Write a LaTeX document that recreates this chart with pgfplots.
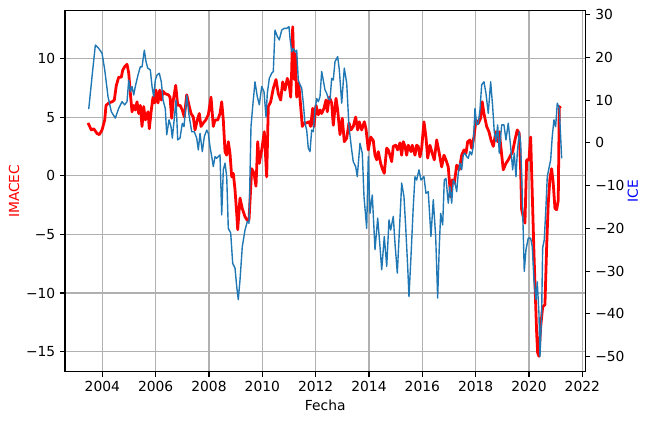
\documentclass[border=0pt]{standalone}
\usepackage{fontspec}
\setmainfont{DejaVu Sans}
\usepackage{pgfplots}
\pgfplotsset{compat=1.18}
\definecolor{mplblue}{HTML}{1F77B4}
\definecolor{gridgray}{HTML}{B0B0B0}
\definecolor{labelblue}{HTML}{0000FF}
\definecolor{labelred}{HTML}{FF0000}

\pgfplotstableread{
x y
2003.464 4.5
2003.588 3.9
2003.678 4.0
2003.801 3.6
2003.888 3.5
2003.989 3.9
2004.090 4.75
2004.139 6.0
2004.240 6.2
2004.364 6.3
2004.450 6.45
2004.525 7.7
2004.615 8.4
2004.712 8.4
2004.765 9.0
2004.840 9.3
2004.926 9.5
2004.990 8.75
2005.050 7.05
2005.114 5.45
2005.177 6.0
2005.237 5.6
2005.301 6.3
2005.365 5.3
2005.425 6.0
2005.489 4.2
2005.552 5.9
2005.612 4.75
2005.714 5.45
2005.762 4.0
2005.837 5.6
2005.901 6.7
2005.965 6.2
2006.013 7.3
2006.088 6.2
2006.152 7.3
2006.212 6.45
2006.276 7.2
2006.351 7.0
2006.475 6.9
2006.538 6.7
2006.602 4.9
2006.662 6.45
2006.752 7.7
2006.827 6.0
2006.913 6.0
2007.000 5.6
2007.075 5.0
2007.165 6.9
2007.251 6.0
2007.326 5.3
2007.412 5.0
2007.476 3.9
2007.562 4.75
2007.637 5.3
2007.701 4.2
2007.787 4.5
2007.877 4.75
2007.975 5.2
2008.076 6.7
2008.162 4.2
2008.226 4.75
2008.327 4.75
2008.413 5.3
2008.477 6.3
2008.537 4.75
2008.601 2.05
2008.665 1.75
2008.724 2.9
2008.788 1.9
2008.852 -0.1
2008.912 0.2
2008.976 -1.2
2009.039 -3.2
2009.077 -4.6
2009.163 -1.9
2009.249 -2.8
2009.351 -3.5
2009.437 -3.8
2009.501 -3.8
2009.602 0.6
2009.688 0.2
2009.763 -0.9
2009.827 2.9
2009.887 1.05
2009.977 2.2
2010.074 3.75
2010.164 -0.1
2010.224 5.9
2010.314 6.3
2010.412 7.45
2010.513 8.2
2010.599 7.0
2010.689 6.45
2010.764 8.0
2010.850 7.3
2010.937 8.3
2011.012 7.7
2011.064 6.7
2011.102 9.0
2011.139 12.7
2011.199 8.2
2011.237 10.4
2011.289 6.7
2011.364 7.9
2011.439 5.9
2011.499 4.2
2011.574 4.5
2011.664 4.5
2011.750 4.6
2011.814 4.2
2011.889 5.75
2011.938 4.2
2012.013 6.0
2012.099 5.2
2012.163 5.6
2012.226 5.3
2012.313 5.75
2012.388 6.45
2012.437 5.45
2012.512 6.7
2012.601 6.2
2012.661 4.3
2012.763 6.6
2012.826 5.6
2012.913 3.5
2012.999 4.9
2013.074 2.9
2013.164 3.2
2013.250 4.5
2013.325 3.9
2013.411 4.2
2013.501 5.0
2013.576 3.9
2013.636 4.6
2013.726 3.9
2013.824 4.6
2013.888 4.0
2013.974 2.2
2014.064 3.3
2014.161 3.0
2014.225 1.75
2014.289 1.35
2014.349 2.05
2014.439 1.05
2014.499 0.6
2014.574 0.2
2014.664 2.35
2014.724 2.2
2014.787 1.75
2014.851 1.2
2014.911 2.5
2015.001 2.6
2015.076 2.2
2015.162 2.8
2015.226 1.75
2015.286 2.9
2015.350 2.5
2015.414 1.75
2015.474 2.6
2015.575 2.05
2015.624 2.6
2015.725 1.75
2015.788 2.6
2015.848 2.5
2015.912 1.6
2015.976 2.35
2016.062 4.6
2016.137 3.3
2016.201 1.5
2016.287 2.6
2016.374 1.9
2016.449 1.35
2016.539 3.05
2016.636 1.9
2016.726 0.75
2016.812 1.75
2016.887 1.35
2016.973 0.75
2017.063 -1.8
2017.124 -0.35
2017.199 -0.65
2017.289 0.9
2017.386 0.5
2017.476 1.75
2017.562 2.2
2017.637 1.9
2017.701 2.9
2017.787 3.05
2017.851 2.35
2017.937 3.3
2018.012 4.75
2018.098 4.45
2018.188 4.9
2018.248 6.3
2018.312 5.3
2018.413 4.2
2018.500 3.75
2018.575 3.05
2018.661 2.5
2018.762 3.75
2018.826 2.9
2018.886 3.75
2019.036 0.5
2019.137 1.05
2019.223 1.35
2019.313 1.75
2019.388 2.05
2019.474 3.05
2019.560 3.9
2019.636 3.6
2019.688 0.5
2019.725 -2.9
2019.786 -3.5
2019.849 -4.05
2019.913 1.35
2019.999 1.35
2020.063 3.3
2020.123 -1.5
2020.187 -6.6
2020.236 -10.0
2020.288 -13.4
2020.325 -15.1
2020.374 -15.4
2020.438 -12.9
2020.513 -11.2
2020.599 -11.0
2020.663 -6.05
2020.723 -2.35
2020.787 -0.2
2020.850 0.6
2020.910 -0.65
2020.974 -2.8
2021.038 -2.9
2021.098 -2.1
2021.136 5.9
2021.188 5.75
}\imacec

\pgfplotstableread{
x y
2003.490 7.9
2003.614 15.5
2003.738 22.9
2003.865 22.1
2003.989 21.0
2004.090 17.1
2004.214 10.8
2004.337 7.3
2004.487 5.8
2004.615 8.1
2004.739 9.65
2004.840 8.9
2004.926 9.65
2004.990 14.7
2005.050 12.0
2005.114 13.2
2005.177 11.2
2005.237 13.2
2005.339 15.9
2005.425 17.8
2005.489 17.8
2005.575 21.7
2005.639 19.0
2005.702 17.5
2005.800 17.1
2005.864 13.2
2005.927 10.8
2005.987 14.7
2006.051 15.9
2006.137 16.3
2006.212 14.3
2006.276 10.05
2006.362 8.0
2006.415 1.9
2006.501 5.4
2006.576 3.8
2006.625 1.1
2006.700 5.8
2006.763 10.05
2006.827 0.7
2006.913 1.1
2007.000 4.6
2007.063 3.8
2007.165 11.2
2007.251 6.5
2007.352 2.6
2007.450 2.6
2007.540 1.1
2007.600 -1.65
2007.663 2.25
2007.750 -2.05
2007.825 1.5
2007.915 3.0
2007.975 2.25
2008.038 -0.9
2008.102 -3.2
2008.162 -5.55
2008.226 -3.2
2008.289 -3.6
2008.349 -3.2
2008.413 -2.8
2008.477 -16.85
2008.537 -6.3
2008.601 -4.75
2008.665 -7.9
2008.724 -20.0
2008.814 -21.1
2008.889 -28.2
2008.976 -29.3
2009.039 -33.6
2009.099 -36.7
2009.163 -32.1
2009.249 -24.3
2009.351 -20.4
2009.437 -18.4
2009.501 -18.8
2009.575 3.8
2009.639 8.5
2009.725 14.3
2009.812 10.8
2009.887 8.9
2009.977 13.2
2010.063 12.0
2010.138 6.1
2010.187 11.6
2010.262 15.1
2010.352 16.3
2010.412 16.7
2010.475 26.4
2010.562 24.9
2010.637 24.1
2010.727 26.4
2010.813 26.8
2010.914 26.8
2011.000 27.2
2011.038 24.5
2011.102 21.3
2011.162 22.1
2011.226 21.3
2011.289 21.7
2011.349 14.7
2011.413 13.6
2011.477 12.8
2011.537 9.3
2011.600 4.6
2011.664 3.0
2011.724 -1.25
2011.788 -2.05
2011.851 3.0
2011.911 2.6
2011.975 7.7
2012.039 10.4
2012.099 9.65
2012.163 10.8
2012.226 16.7
2012.286 14.7
2012.350 12.4
2012.414 11.6
2012.474 10.4
2012.538 10.05
2012.601 15.1
2012.661 14.7
2012.725 19.0
2012.826 20.2
2012.887 17.1
2012.977 9.3
2013.074 17.5
2013.164 14.0
2013.250 3.8
2013.351 -1.65
2013.411 -4.4
2013.501 -5.55
2013.561 -7.9
2013.662 -0.1
2013.749 -2.4
2013.813 -12.6
2013.914 -20.0
2013.974 -3.2
2014.038 -16.5
2014.124 -12.2
2014.226 -25.0
2014.327 -17.6
2014.413 -24.3
2014.477 -29.7
2014.574 -21.9
2014.665 -28.9
2014.751 -18.0
2014.814 -20.4
2014.911 -17.2
2014.975 -23.5
2015.062 -30.5
2015.136 -21.1
2015.226 -9.4
2015.312 -12.6
2015.376 -19.6
2015.451 -28.9
2015.500 -36.0
2015.575 -26.6
2015.661 -14.9
2015.725 -7.9
2015.788 -8.7
2015.875 -6.3
2015.950 -8.7
2016.062 -7.9
2016.137 -11.8
2016.223 -11.4
2016.324 -21.9
2016.411 -13.3
2016.501 -21.9
2016.576 -36.3
2016.636 -24.3
2016.689 -16.5
2016.764 -19.2
2016.824 -8.7
2016.887 -8.3
2016.973 -14.1
2017.037 -10.2
2017.101 -14.1
2017.161 -8.7
2017.225 -9.4
2017.289 -11.4
2017.348 -7.1
2017.412 -4.75
2017.476 -6.3
2017.536 -2.8
2017.600 -2.4
2017.663 -3.2
2017.723 -3.6
2017.787 -2.05
2017.851 -2.8
2017.911 -0.9
2017.975 8.1
2018.039 4.2
2018.098 4.6
2018.162 7.7
2018.226 13.6
2018.312 14.3
2018.387 11.6
2018.473 6.9
2018.563 14.3
2018.638 8.5
2018.698 2.6
2018.762 0.3
2018.826 4.2
2018.886 -2.4
2018.976 4.2
2019.062 4.2
2019.137 0.7
2019.223 4.6
2019.313 -0.9
2019.388 -6.3
2019.448 -2.4
2019.512 -7.9
2019.561 -2.4
2019.636 2.6
2019.688 -0.1
2019.737 -10.2
2019.786 -21.1
2019.823 -30.1
2019.887 -25.0
2019.973 -22.3
2020.063 -22.3
2020.123 -24.3
2020.187 -32.1
2020.262 -36.7
2020.311 -32.5
2020.374 -39.9
2020.412 -50.0
2020.475 -39.9
2020.513 -24.6
2020.573 -22.7
2020.637 -14.9
2020.686 -7.9
2020.761 -5.55
2020.813 -4.0
2020.873 1.5
2020.937 5.4
2021.000 3.8
2021.061 9.3
2021.136 8.1
2021.226 -3.6
}\ice

\begin{document}
\begin{tikzpicture}
\pgfplotsset{
  every axis/.append style={font=\fontsize{10}{12}\selectfont},
  common/.style={
    scale only axis, width=374.8bp, height=260.1bp,
    xmin=2002.6, xmax=2022.12,
    axis line style={black, line width=0.8bp},
    tick align=outside, major tick length=3.5bp,
    every tick/.style={black, line width=0.8bp},
    tick label style={font=\fontsize{10}{12}\selectfont},
  },
}
\begin{axis}[common,
  ymin=-16.73, ymax=14.07,
  xtick pos=bottom, ytick pos=left,
  xtick={2004,2006,...,2022},
  xticklabels={2004,2006,2008,2010,2012,2014,2016,2018,2020,2022},
  ytick={-15,-10,-5,0,5,10},
  yticklabels={−15,−10,−5,0,5,10},
  xmajorgrids, ymajorgrids,
  grid style={gridgray, line width=0.8bp},
  xlabel={Fecha}, ylabel={IMACEC},
  ylabel style={labelred},
  ylabel shift=-2bp,
  xlabel shift=-1bp,
]
\coordinate (bl) at (rel axis cs:0,0);
\coordinate (tr) at (rel axis cs:1,1);
\addplot[red, line width=2bp, line join=round, no markers] table[x=x,y=y] {\imacec};
\end{axis}
\begin{axis}[common,
  ymin=-53.6, ymax=30.94,
  axis x line=none,
  axis y line*=right,
  ytick={-50,-40,-30,-20,-10,0,10,20,30},
  yticklabels={−50,−40,−30,−20,−10,0,10,20,30},
  ylabel={ICE},
  ylabel style={labelblue},
  ylabel shift=-4.5bp,
]
\addplot[mplblue, line width=1bp, line join=round, no markers] table[x=x,y=y] {\ice};
\end{axis}
\path ([shift={(-46.8bp,-36.72bp)}]bl) rectangle ([shift={(47.16bp,7.7bp)}]tr);
\end{tikzpicture}
\end{document}
